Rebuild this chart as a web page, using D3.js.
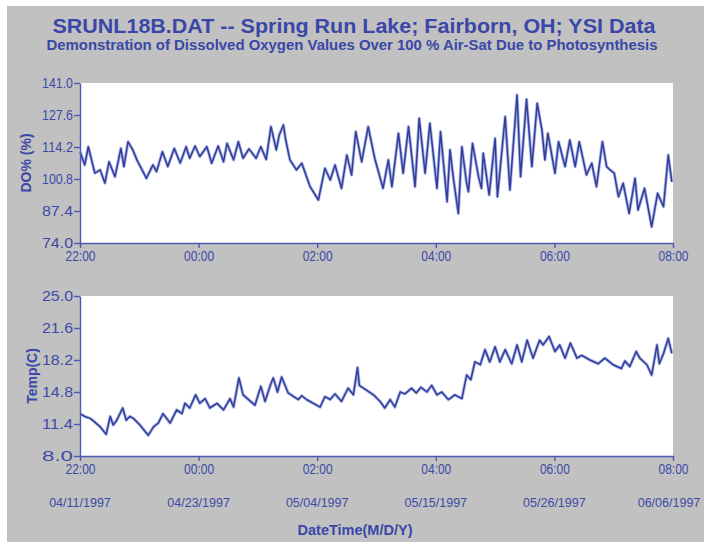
<!DOCTYPE html>
<meta charset="utf-8">
<html>
<head>
	<script src="https://cdn.jsdelivr.net/npm/d3@7/dist/d3.min.js"></script>
	<style>
		body { margin: 0; background: #fff; }
		text { font-family: "Liberation Sans", Arial, sans-serif; }
		.tick text { font-size: 14px; fill: #3d4aa6; }
		.axis path, .axis line { stroke: #4b59b0; stroke-width: 1.4; }
	</style>
</head>
<body>
	<div id="chart"></div>
	<script>
	// hours after 22:00 on the axis
	var timeTicks = [0, 2, 4, 6, 8, 10];
	var timeLabels = ["22:00", "00:00", "02:00", "04:00", "06:00", "08:00"];
	var dateLabels = ["04/11/1997", "04/23/1997", "05/04/1997", "05/15/1997", "05/26/1997", "06/06/1997"];
	var doTicks = [74.0, 87.4, 100.8, 114.2, 127.6, 141.0];
	var tempTicks = [8.0, 11.4, 14.8, 18.2, 21.6, 25.0];

	var doTime = [0.00, 0.08, 0.14, 0.25, 0.34, 0.42, 0.49, 0.59, 0.69, 0.74, 0.81, 0.89, 0.96, 1.12, 1.23, 1.29,
		1.39, 1.48, 1.59, 1.69, 1.79, 1.85, 1.94, 2.02, 2.14, 2.22, 2.33, 2.42, 2.48, 2.59, 2.67, 2.75,
		2.85, 2.97, 3.05, 3.14, 3.22, 3.31, 3.36, 3.43, 3.47, 3.54, 3.65, 3.74, 3.88, 4.02, 4.13, 4.22,
		4.30, 4.41, 4.50, 4.58, 4.65, 4.75, 4.86, 4.97, 5.11, 5.20, 5.26, 5.37, 5.45, 5.54, 5.65, 5.72,
		5.82, 5.90, 6.02, 6.08, 6.19, 6.24, 6.30, 6.38, 6.44, 6.52, 6.55, 6.62, 6.72, 6.77, 6.80, 6.90,
		7.00, 7.04, 7.17, 7.25, 7.37, 7.43, 7.53, 7.62, 7.71, 7.79, 7.84, 7.89, 8.01, 8.07, 8.18, 8.26,
		8.35, 8.42, 8.54, 8.63, 8.71, 8.81, 8.88, 8.94, 9.01, 9.08, 9.16, 9.26, 9.36, 9.41, 9.52, 9.64,
		9.74, 9.84, 9.92, 9.98];
	var doValue = [112.2, 106.7, 114.3, 103.3, 104.6, 99.1, 108.0, 101.8, 113.6, 106.0, 116.4, 113.0, 108.8, 101.1, 106.7, 103.9,
		112.2, 106.0, 113.6, 107.5, 114.3, 109.5, 114.6, 110.2, 114.3, 107.4, 114.6, 108.0, 115.7, 108.8, 116.4, 109.5,
		113.4, 109.5, 114.3, 109.0, 122.7, 113.0, 119.2, 123.4, 117.1, 108.8, 104.6, 107.4, 97.6, 92.0, 105.3, 100.4,
		106.7, 96.9, 110.8, 102.5, 120.6, 108.0, 122.7, 109.5, 96.9, 108.8, 97.6, 119.9, 103.2, 122.7, 97.6, 126.2,
		103.2, 124.1, 96.9, 120.6, 91.3, 113.0, 100.4, 86.4, 114.3, 99.0, 95.5, 115.7, 101.8, 96.9, 111.6, 94.1,
		117.8, 93.4, 126.9, 96.2, 136.0, 101.8, 134.2, 106.0, 132.5, 121.3, 108.8, 119.9, 103.2, 116.4, 106.0, 117.1,
		106.0, 116.4, 102.5, 107.4, 97.6, 116.4, 106.0, 104.6, 103.2, 93.4, 99.0, 86.4, 101.1, 87.8, 96.9, 80.8,
		94.8, 89.2, 110.8, 99.6];

	var tempTime = [0.00, 0.08, 0.17, 0.25, 0.34, 0.44, 0.51, 0.56, 0.62, 0.72, 0.78, 0.84, 0.90, 1.01, 1.15, 1.24,
		1.32, 1.40, 1.52, 1.63, 1.72, 1.77, 1.85, 1.95, 2.02, 2.11, 2.19, 2.31, 2.42, 2.53, 2.59, 2.68,
		2.75, 2.95, 3.05, 3.12, 3.22, 3.26, 3.33, 3.40, 3.51, 3.68, 3.74, 3.82, 4.05, 4.13, 4.22, 4.30,
		4.41, 4.52, 4.61, 4.68, 4.71, 4.78, 4.95, 5.06, 5.14, 5.23, 5.31, 5.40, 5.48, 5.59, 5.67, 5.75,
		5.85, 5.93, 6.02, 6.10, 6.21, 6.24, 6.32, 6.44, 6.52, 6.59, 6.66, 6.75, 6.83, 6.91, 7.00, 7.08,
		7.17, 7.28, 7.37, 7.45, 7.54, 7.64, 7.75, 7.81, 7.91, 8.01, 8.09, 8.18, 8.27, 8.38, 8.46, 8.60,
		8.74, 8.85, 8.99, 9.13, 9.19, 9.27, 9.38, 9.44, 9.56, 9.64, 9.73, 9.77, 9.84, 9.92, 9.98];
	var tempValue = [12.5, 12.2, 12.0, 11.6, 11.1, 10.3, 12.2, 11.3, 11.8, 13.1, 11.8, 12.2, 12.0, 11.3, 10.2, 11.1,
		11.5, 12.5, 11.5, 12.9, 12.5, 13.6, 13.1, 14.5, 13.6, 14.1, 13.1, 13.6, 12.9, 14.1, 13.2, 16.3,
		14.5, 13.4, 15.4, 13.8, 15.7, 16.3, 14.8, 16.4, 14.7, 14.0, 14.4, 14.0, 13.2, 14.3, 14.0, 14.6,
		13.8, 15.2, 14.5, 17.4, 15.5, 15.2, 14.5, 13.8, 13.1, 14.0, 13.2, 14.8, 14.6, 15.2, 14.7, 15.3,
		14.8, 15.5, 14.5, 14.8, 14.0, 14.1, 14.5, 14.1, 16.6, 16.1, 18.0, 17.7, 19.3, 18.0, 19.6, 18.0,
		19.3, 17.8, 19.8, 18.0, 20.3, 18.4, 20.3, 19.8, 20.7, 19.1, 19.8, 18.4, 20.0, 18.4, 18.7, 18.2,
		17.8, 18.4, 17.7, 17.3, 18.1, 17.5, 19.1, 18.4, 17.7, 16.6, 19.8, 17.8, 18.9, 20.5, 18.9];

	var width = 704, height = 542;
	var left = 80, right = 673;

	var svg = d3.select("#chart").append("svg")
		.attr("width", width)
		.attr("height", height);

	svg.append("rect")
		.attr("x", 7).attr("y", 6)
		.attr("width", width - 7).attr("height", height - 6)
		.attr("fill", "#c1c1c1");

	svg.append("text")
		.attr("x", 354).attr("y", 33)
		.attr("text-anchor", "middle")
		.attr("font-size", 21).attr("font-weight", "bold")
		.attr("fill", "#3a47a8")
		.attr("textLength", 603).attr("lengthAdjust", "spacingAndGlyphs")
		.text("SRUNL18B.DAT -- Spring Run Lake; Fairborn, OH; YSI Data");

	svg.append("text")
		.attr("x", 352).attr("y", 49.5)
		.attr("text-anchor", "middle")
		.attr("font-size", 14).attr("font-weight", "bold")
		.attr("fill", "#3a47a8")
		.attr("textLength", 611).attr("lengthAdjust", "spacingAndGlyphs")
		.text("Demonstration of Dissolved Oxygen Values Over 100 % Air-Sat Due to Photosynthesis");

	var x = d3.scaleLinear().domain([0, 10]).range([left, right]);

	function drawPanel(top, bottom, yTicks, times, values, title, titleX) {
		var y = d3.scaleLinear().domain([yTicks[0], yTicks[yTicks.length - 1]]).range([bottom, top]);

		svg.append("rect")
			.attr("x", left).attr("y", top)
			.attr("width", right - left).attr("height", bottom - top)
			.attr("fill", "#fff");

		var line = d3.line()
			.x(function(d) { return x(d[0]); })
			.y(function(d) { return y(d[1]); });
		var pts = d3.zip(times, values);

		svg.append("path").datum(pts)
			.attr("d", line)
			.attr("fill", "none")
			.attr("stroke", "#a9b8ea")
			.attr("stroke-width", 3.2)
			.attr("stroke-linejoin", "round");
		svg.append("path").datum(pts)
			.attr("d", line)
			.attr("fill", "none")
			.attr("stroke", "#343c96")
			.attr("stroke-width", 1.5)
			.attr("stroke-linejoin", "round");

		var yAxis = svg.append("g")
			.attr("class", "axis")
			.attr("transform", "translate(" + left + ",0)")
			.call(d3.axisLeft(y).tickValues(yTicks).tickSize(6).tickSizeOuter(0).tickPadding(1)
				.tickFormat(d3.format(".1f")));
		yAxis.selectAll(".tick text")
			.attr("textLength", 31).attr("lengthAdjust", "spacingAndGlyphs");

		var xAxis = svg.append("g")
			.attr("class", "axis")
			.attr("transform", "translate(0," + bottom + ")")
			.call(d3.axisBottom(x).tickValues(timeTicks).tickSize(5).tickSizeOuter(0).tickPadding(3)
				.tickFormat(function(d, i) { return timeLabels[i]; }));
		xAxis.selectAll(".tick text")
			.attr("textLength", 30).attr("lengthAdjust", "spacingAndGlyphs");

		svg.append("text")
			.attr("transform", "translate(" + titleX + "," + ((top + bottom) / 2) + ") rotate(-90)")
			.attr("text-anchor", "middle")
			.attr("font-size", 14).attr("font-weight", "bold")
			.attr("fill", "#3a47a8")
			.text(title);
	}

	drawPanel(83, 243, doTicks, doTime, doValue, "DO% (%)", 31);
	drawPanel(296, 456, tempTicks, tempTime, tempValue, "Temp(C)", 37);

	// last date pulled in a little so it stays inside the frame
	var lastDate = dateLabels.length - 1;
	svg.append("g").selectAll("text")
		.data(dateLabels)
		.enter()
		.append("text")
			.attr("x", function(d, i) { return i === lastDate ? width - 35 : x(timeTicks[i]); })
			.attr("y", 507)
			.attr("text-anchor", "middle")
			.attr("font-size", 12.5)
			.attr("fill", "#3d4aa6")
			.text(function(d) { return d; });

	svg.append("text")
		.attr("x", 355).attr("y", 535)
		.attr("text-anchor", "middle")
		.attr("font-size", 14.5).attr("font-weight", "bold")
		.attr("fill", "#3a47a8")
		.text("DateTime(M/D/Y)");
	</script>
</body>
</html>
